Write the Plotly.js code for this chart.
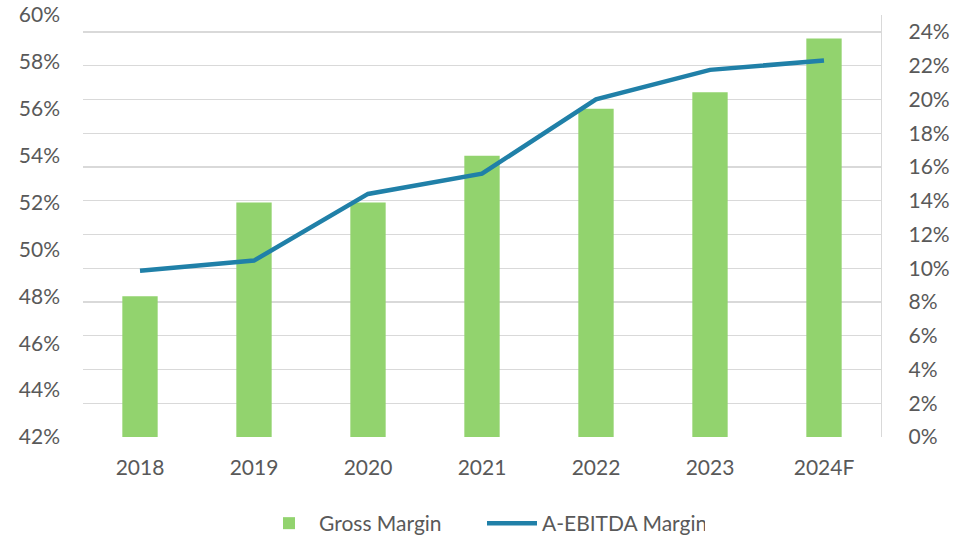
<!DOCTYPE html>
<html>
<head>
<meta charset="utf-8">
<script src="https://cdn.plot.ly/plotly-3.0.1.min.js"></script>
<style>html,body{margin:0;padding:0;background:#fff;}#chart{width:965px;height:535px;}</style>
</head>
<body>
<div id="chart"></div>
<script>
const years = ["2018", "2019", "2020", "2021", "2022", "2023", "2024F"];
const grossMargin = [48.0, 52.0, 52.0, 54.0, 56.0, 56.7, 59.0];
const ebitdaMargin = [9.85, 10.45, 14.4, 15.6, 20.0, 21.75, 22.3];
const leftTicks = [42, 44, 46, 48, 50, 52, 54, 56, 58, 60];
const rightTicks = [0, 2, 4, 6, 8, 10, 12, 14, 16, 18, 20, 22, 24];

const font = {family: "Lato, 'Noto Sans', sans-serif", size: 21, color: "#595959"};

const traces = [
  {
    type: "bar", name: "Gross Margin", x: years, y: grossMargin.map(v => v - 42), base: 42,
    yaxis: "y", marker: {color: "#92d36e"}, hoverinfo: "skip"
  },
  {
    type: "scatter", mode: "lines", name: "A-EBITDA Margin", x: years, y: ebitdaMargin,
    yaxis: "y2", line: {color: "#2080a8", width: 4.5}, hoverinfo: "skip"
  }
];

const layout = {
  width: 965, height: 535,
  margin: {l: 83, r: 84, t: 15, b: 98, autoexpand: false},
  paper_bgcolor: "#fff", plot_bgcolor: "#fff",
  font: font,
  bargap: 0.69,
  showlegend: true,
  legend: {orientation: "h", x: 0.5, xanchor: "center", y: -0.205, yanchor: "middle",
           font: font, traceorder: "normal", itemwidth: 50, entrywidth: 158},
  xaxis: {type: "category", showgrid: false, showline: false, zeroline: false,
          ticks: "", tickfont: font, ticklabelstandoff: 16},
  yaxis: {range: [42, 60], tickvals: leftTicks, ticktext: leftTicks.map(v => v + "%"),
          showgrid: false, zeroline: false, showline: false, ticks: "",
          tickfont: font, ticklabelstandoff: 22},
  yaxis2: {range: [0, 25], overlaying: "y", side: "right",
           tickvals: rightTicks, ticktext: rightTicks.map(v => v + "%"),
           showgrid: true, gridcolor: "#d9d9d9", gridwidth: 1.3, zeroline: false,
           showline: true, linecolor: "#d9d9d9", linewidth: 1.3, ticks: "",
           tickfont: font, ticklabelstandoff: 22}
};

Plotly.newPlot("chart", traces, layout, {displayModeBar: false, staticPlot: true});
</script>
</body>
</html>
